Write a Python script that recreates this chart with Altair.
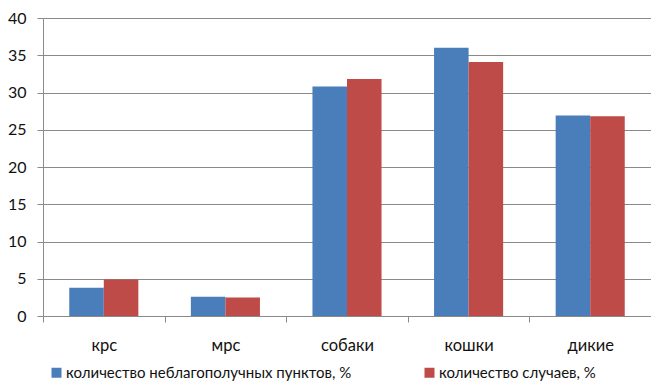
import altair as alt
import pandas as pd

categories = ["крс", "мрс", "собаки", "кошки", "дикие"]
series_names = ["количество неблагополучных пунктов, %", "количество случаев, %"]
s1 = [3.8, 2.6, 30.8, 36.0, 26.9]
s2 = [4.9, 2.5, 31.8, 34.1, 26.8]
colors = ["#4A7EBB", "#BE4B48"]

rows = []
for c, a, b in zip(categories, s1, s2):
    rows.append({"cat": c, "series": series_names[0], "value": a})
    rows.append({"cat": c, "series": series_names[1], "value": b})
df = pd.DataFrame(rows)

FONT = "Lato"
GRAY = "#8a8a8a"

chart = alt.Chart(df).mark_bar().encode(
    x=alt.X("cat:N", sort=categories, title=None,
            scale=alt.Scale(paddingInner=0, paddingOuter=0),
            axis=alt.Axis(labelAngle=0, tickBand="extent", domainColor=GRAY,
                          tickColor=GRAY, tickSize=6, labelPadding=15,
                          labelFontSize=16.5, labelFont=FONT, labelColor="#111111",
                          grid=False)),
    xOffset=alt.XOffset("series:N", sort=series_names,
                        scale=alt.Scale(paddingInner=0, paddingOuter=0.76)),
    y=alt.Y("value:Q", title=None,
            scale=alt.Scale(domain=[0, 40], nice=False),
            axis=alt.Axis(values=list(range(0, 41, 5)), domainColor=GRAY,
                          tickColor=GRAY, tickSize=6, labelPadding=11,
                          labelFontSize=16, labelFont=FONT, labelColor="#111111",
                          gridColor=GRAY, gridOpacity=1)),
    color=alt.Color("series:N", sort=series_names,
                    scale=alt.Scale(domain=series_names, range=colors),
                    legend=alt.Legend(title=None, orient="none", direction="horizontal",
                                      legendX=6, legendY=347,
                                      symbolType="square", symbolSize=100,
                                      symbolStrokeWidth=0, labelFontSize=15,
                                      labelFont=FONT, labelColor="#111111",
                                      columnPadding=70, labelOffset=2,
                                      labelLimit=400)),
).properties(
    width=608, height=298,
    autosize=alt.AutoSizeParams(type="none"),
    padding={"left": 35, "top": 10, "right": 0, "bottom": 66},
).configure_view(stroke=None)

chart.save("out.html", embed_options={"renderer": "svg", "actions": False})
